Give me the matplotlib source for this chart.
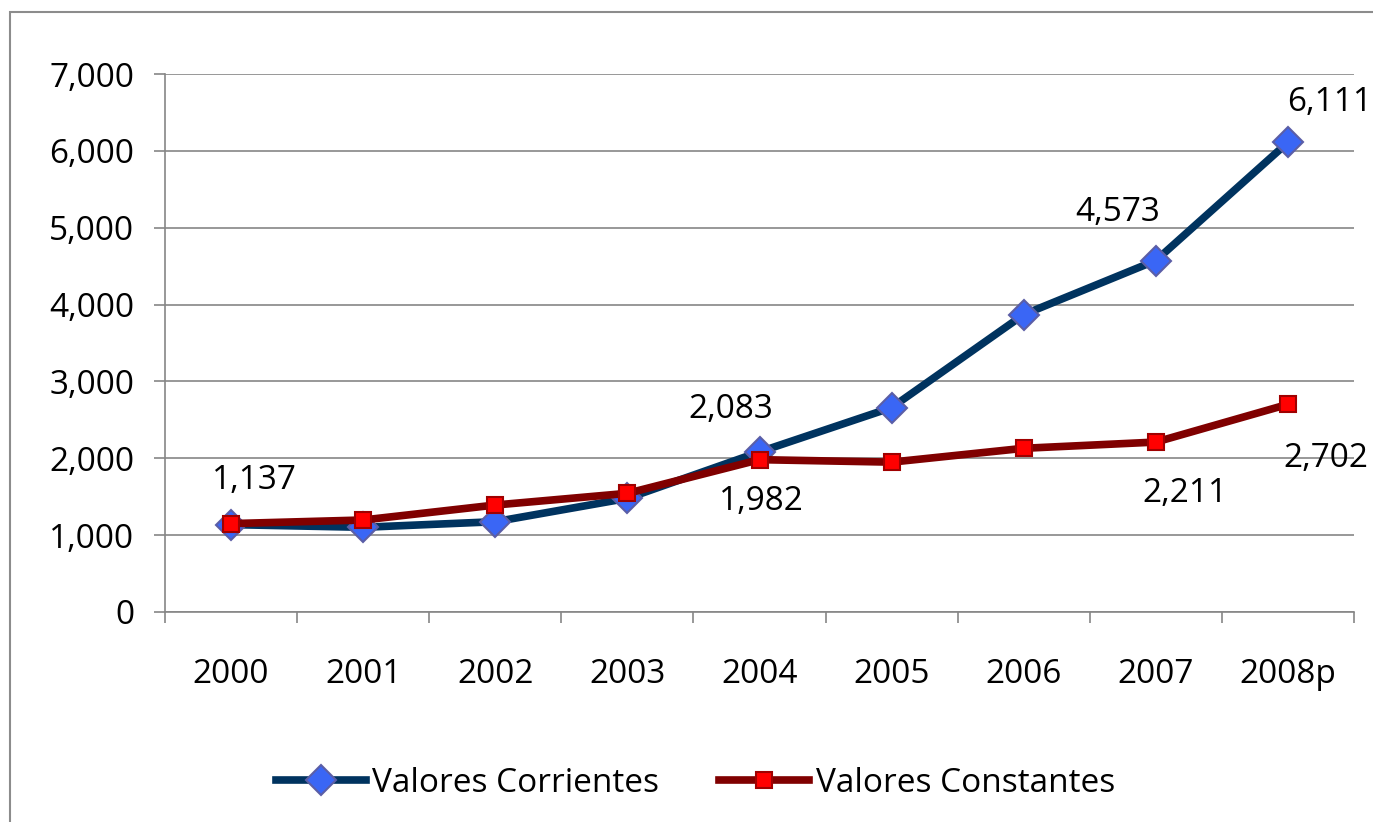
import matplotlib
matplotlib.use('Agg')
import matplotlib.pyplot as plt
from matplotlib.patches import Rectangle
from matplotlib.ticker import FuncFormatter, FixedLocator

years = ['2000', '2001', '2002', '2003', '2004', '2005', '2006', '2007', '2008p']
corrientes = [1137, 1102, 1175, 1479, 2083, 2660, 3870, 4573, 6111]
constantes = [1150, 1197, 1392, 1544, 1982, 1950, 2130, 2211, 2702]

# which points carry a data label, and where (offset in points)
labels_corr = {0: (16.6, 32.1), 4: (-20.9, 30.2), 7: (-27.4, 34.9), 8: (30.2, 28.8)}
labels_cons = {4: (1.4, -30.4), 7: (20.9, -36.7), 8: (27.4, -38.7)}

plt.rcParams['font.family'] = ['Open Sans', 'DejaVu Sans']
FS = 24
GRID = '#868686'

fig = plt.figure(figsize=(13.73, 8.22), dpi=100)
fig.patches.append(Rectangle((10 / 1373, -0.1), 1.2, 1 - 12 / 822 + 0.1,
                             transform=fig.transFigure, fill=False,
                             edgecolor='#8c8c8c', linewidth=1.5))

ax = fig.add_axes([165 / 1373, 1 - 612 / 822, (1354 - 165) / 1373, (612 - 74) / 822])
x = list(range(len(years)))

ax.plot(x, corrientes, color='#00335f', linewidth=5.5, marker='D', markersize=15,
        markerfacecolor='#3a66f5', markeredgecolor='#5b5ea6', markeredgewidth=1.5,
        label='Valores Corrientes', zorder=3)
ax.plot(x, constantes, color='#800000', linewidth=5.5, marker='s', markersize=12,
        markerfacecolor='#ff0000', markeredgecolor='#a00000', markeredgewidth=1.5,
        label='Valores Constantes', zorder=4)

for i, off in labels_corr.items():
    ax.annotate(f'{corrientes[i]:,}', (x[i], corrientes[i]), xytext=off,
                textcoords='offset points', ha='center', va='center',
                fontsize=FS, annotation_clip=False)
for i, off in labels_cons.items():
    ax.annotate(f'{constantes[i]:,}', (x[i], constantes[i]), xytext=off,
                textcoords='offset points', ha='center', va='center',
                fontsize=FS, annotation_clip=False)

ax.set_xlim(-0.5, len(years) - 0.5)
ax.set_ylim(0, 7000)
ax.set_yticks(range(0, 7001, 1000))
ax.yaxis.set_major_formatter(FuncFormatter(lambda v, p: f'{int(v):,}'))
ax.grid(axis='y', color=GRID, linewidth=1.2)
ax.set_axisbelow(True)

ax.set_xticks(x)
ax.set_xticklabels(years)
ax.xaxis.set_minor_locator(FixedLocator([i - 0.5 for i in range(len(years) + 1)]))
ax.tick_params(axis='x', which='major', length=0, pad=33, labelsize=FS)
ax.tick_params(axis='x', which='minor', length=8, width=1.2, color=GRID, direction='out')
ax.tick_params(axis='y', length=8, width=1.2, color=GRID, pad=14, labelsize=FS)

for side in ('top', 'right'):
    ax.spines[side].set_visible(False)
for side in ('left', 'bottom'):
    ax.spines[side].set_color(GRID)
    ax.spines[side].set_linewidth(1.2)

fig.legend(loc='center', bbox_to_anchor=(0.5066, 1 - 783 / 822), ncol=2,
           frameon=False, fontsize=FS, handlelength=2.7, handletextpad=0.2,
           columnspacing=1.8)

fig.savefig('out.png', dpi=100)
